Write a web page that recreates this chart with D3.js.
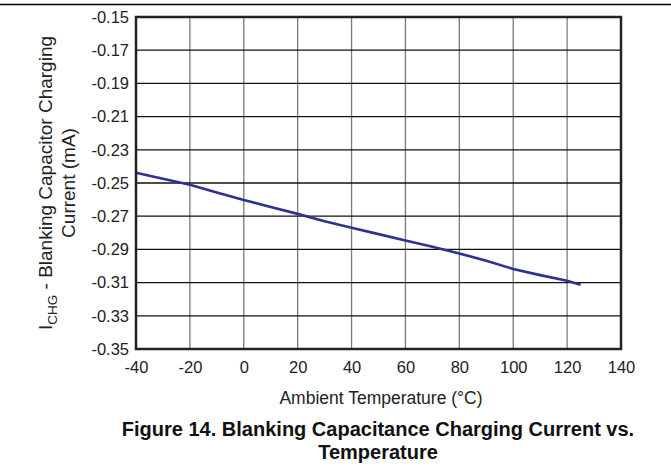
<!DOCTYPE html>
<html>
<head>
<meta charset="utf-8">
<script src="https://cdn.jsdelivr.net/npm/d3@7"></script>
<style>
  body { margin: 0; background: #fff; }
  svg { display: block; font-family: "Liberation Sans", Arial, sans-serif; }
</style>
</head>
<body>
<svg id="chart"></svg>
<script>
const temps = [-40, -30, -20, -10, 0, 10, 20, 30, 40, 50, 60, 70, 80, 90, 100, 110, 120, 125];
const current = [-0.2438, -0.2475, -0.2511, -0.2557, -0.2602, -0.2645, -0.2686, -0.2730, -0.2770, -0.2808, -0.2847, -0.2884, -0.2924, -0.2968, -0.3018, -0.3055, -0.3089, -0.3113];
const xTicks = [-40, -20, 0, 20, 40, 60, 80, 100, 120, 140];
const yTicks = [-0.15, -0.17, -0.19, -0.21, -0.23, -0.25, -0.27, -0.29, -0.31, -0.33, -0.35];

const W = 671, H = 476;
const margin = { top: 17, right: 50, bottom: 127, left: 136 };
const width = W - margin.left - margin.right;
const height = H - margin.top - margin.bottom;
const FONT = "Liberation Sans, Arial, sans-serif";

// plain hyphen for negative numbers, like the original
const locale = d3.formatLocale({ decimal: ".", thousands: ",", grouping: [3], currency: ["$", ""], minus: "-" });

const svg = d3.select("#chart").attr("width", W).attr("height", H);

// rule at the top of the page
svg.append("line")
    .attr("x1", 0).attr("x2", W)
    .attr("y1", 4.5).attr("y2", 4.5)
    .attr("stroke", "#000").attr("stroke-width", 1.5);

const g = svg.append("g").attr("transform", `translate(${margin.left}, ${margin.top})`);

const x = d3.scaleLinear().domain([-40, 140]).range([0, width]);
const y = d3.scaleLinear().domain([-0.35, -0.15]).range([height, 0]);

// grid
g.append("g")
    .selectAll("line")
    .data(xTicks.slice(1, -1))
    .join("line")
    .attr("x1", d => x(d)).attr("x2", d => x(d))
    .attr("y1", 0).attr("y2", height)
    .attr("stroke", "#7a7a7a").attr("stroke-width", 1.3);

g.append("g")
    .selectAll("line")
    .data(yTicks.slice(1, -1))
    .join("line")
    .attr("x1", 0).attr("x2", width)
    .attr("y1", d => y(d)).attr("y2", d => y(d))
    .attr("stroke", "#111").attr("stroke-width", 1.3);

// axes (labels only)
const xAxis = g.append("g")
    .attr("transform", `translate(0, ${height})`)
    .call(d3.axisBottom(x).tickValues(xTicks).tickSize(0).tickPadding(12).tickFormat(locale.format("d")));
xAxis.select(".domain").remove();
xAxis.selectAll("text").attr("font-size", 16.5).attr("fill", "#222").attr("font-family", FONT);

const yAxis = g.append("g")
    .call(d3.axisLeft(y).tickValues(yTicks).tickSize(0).tickPadding(7).tickFormat(locale.format(".2f")));
yAxis.select(".domain").remove();
yAxis.selectAll("text").attr("font-size", 16.5).attr("fill", "#222").attr("font-family", FONT);

// data line
const line = d3.line().x((d, i) => x(temps[i])).y(d => y(d));
g.append("path")
    .datum(current)
    .attr("d", line)
    .attr("fill", "none")
    .attr("stroke", "#2e3192")
    .attr("stroke-width", 2.6);

// frame
g.append("rect")
    .attr("x", 0).attr("y", 0)
    .attr("width", width).attr("height", height)
    .attr("fill", "none")
    .attr("stroke", "#222").attr("stroke-width", 2.5);

// axis titles
svg.append("text")
    .attr("x", 381).attr("y", 404)
    .attr("text-anchor", "middle")
    .attr("font-size", 17.5).attr("fill", "#222")
    .text("Ambient Temperature (°C)");

const yt = svg.append("text")
    .attr("transform", `translate(52, ${margin.top + height / 2}) rotate(-90)`)
    .attr("text-anchor", "middle")
    .attr("font-size", 19).attr("fill", "#222");
yt.append("tspan").text("I");
yt.append("tspan").attr("font-size", 13.5).attr("dy", 5).text("CHG");
yt.append("tspan").attr("dy", -5).text(" - Blanking Capacitor Charging");

svg.append("text")
    .attr("transform", `translate(75, ${margin.top + height / 2}) rotate(-90)`)
    .attr("text-anchor", "middle")
    .attr("font-size", 19).attr("fill", "#222")
    .text("Current (mA)");

// caption
svg.append("text")
    .attr("x", 378).attr("y", 436)
    .attr("text-anchor", "middle")
    .attr("font-size", 20).attr("font-weight", "bold").attr("fill", "#111")
    .text("Figure 14. Blanking Capacitance Charging Current vs.");
svg.append("text")
    .attr("x", 378).attr("y", 459)
    .attr("text-anchor", "middle")
    .attr("font-size", 20).attr("font-weight", "bold").attr("fill", "#111")
    .text("Temperature");
</script>
</body>
</html>
